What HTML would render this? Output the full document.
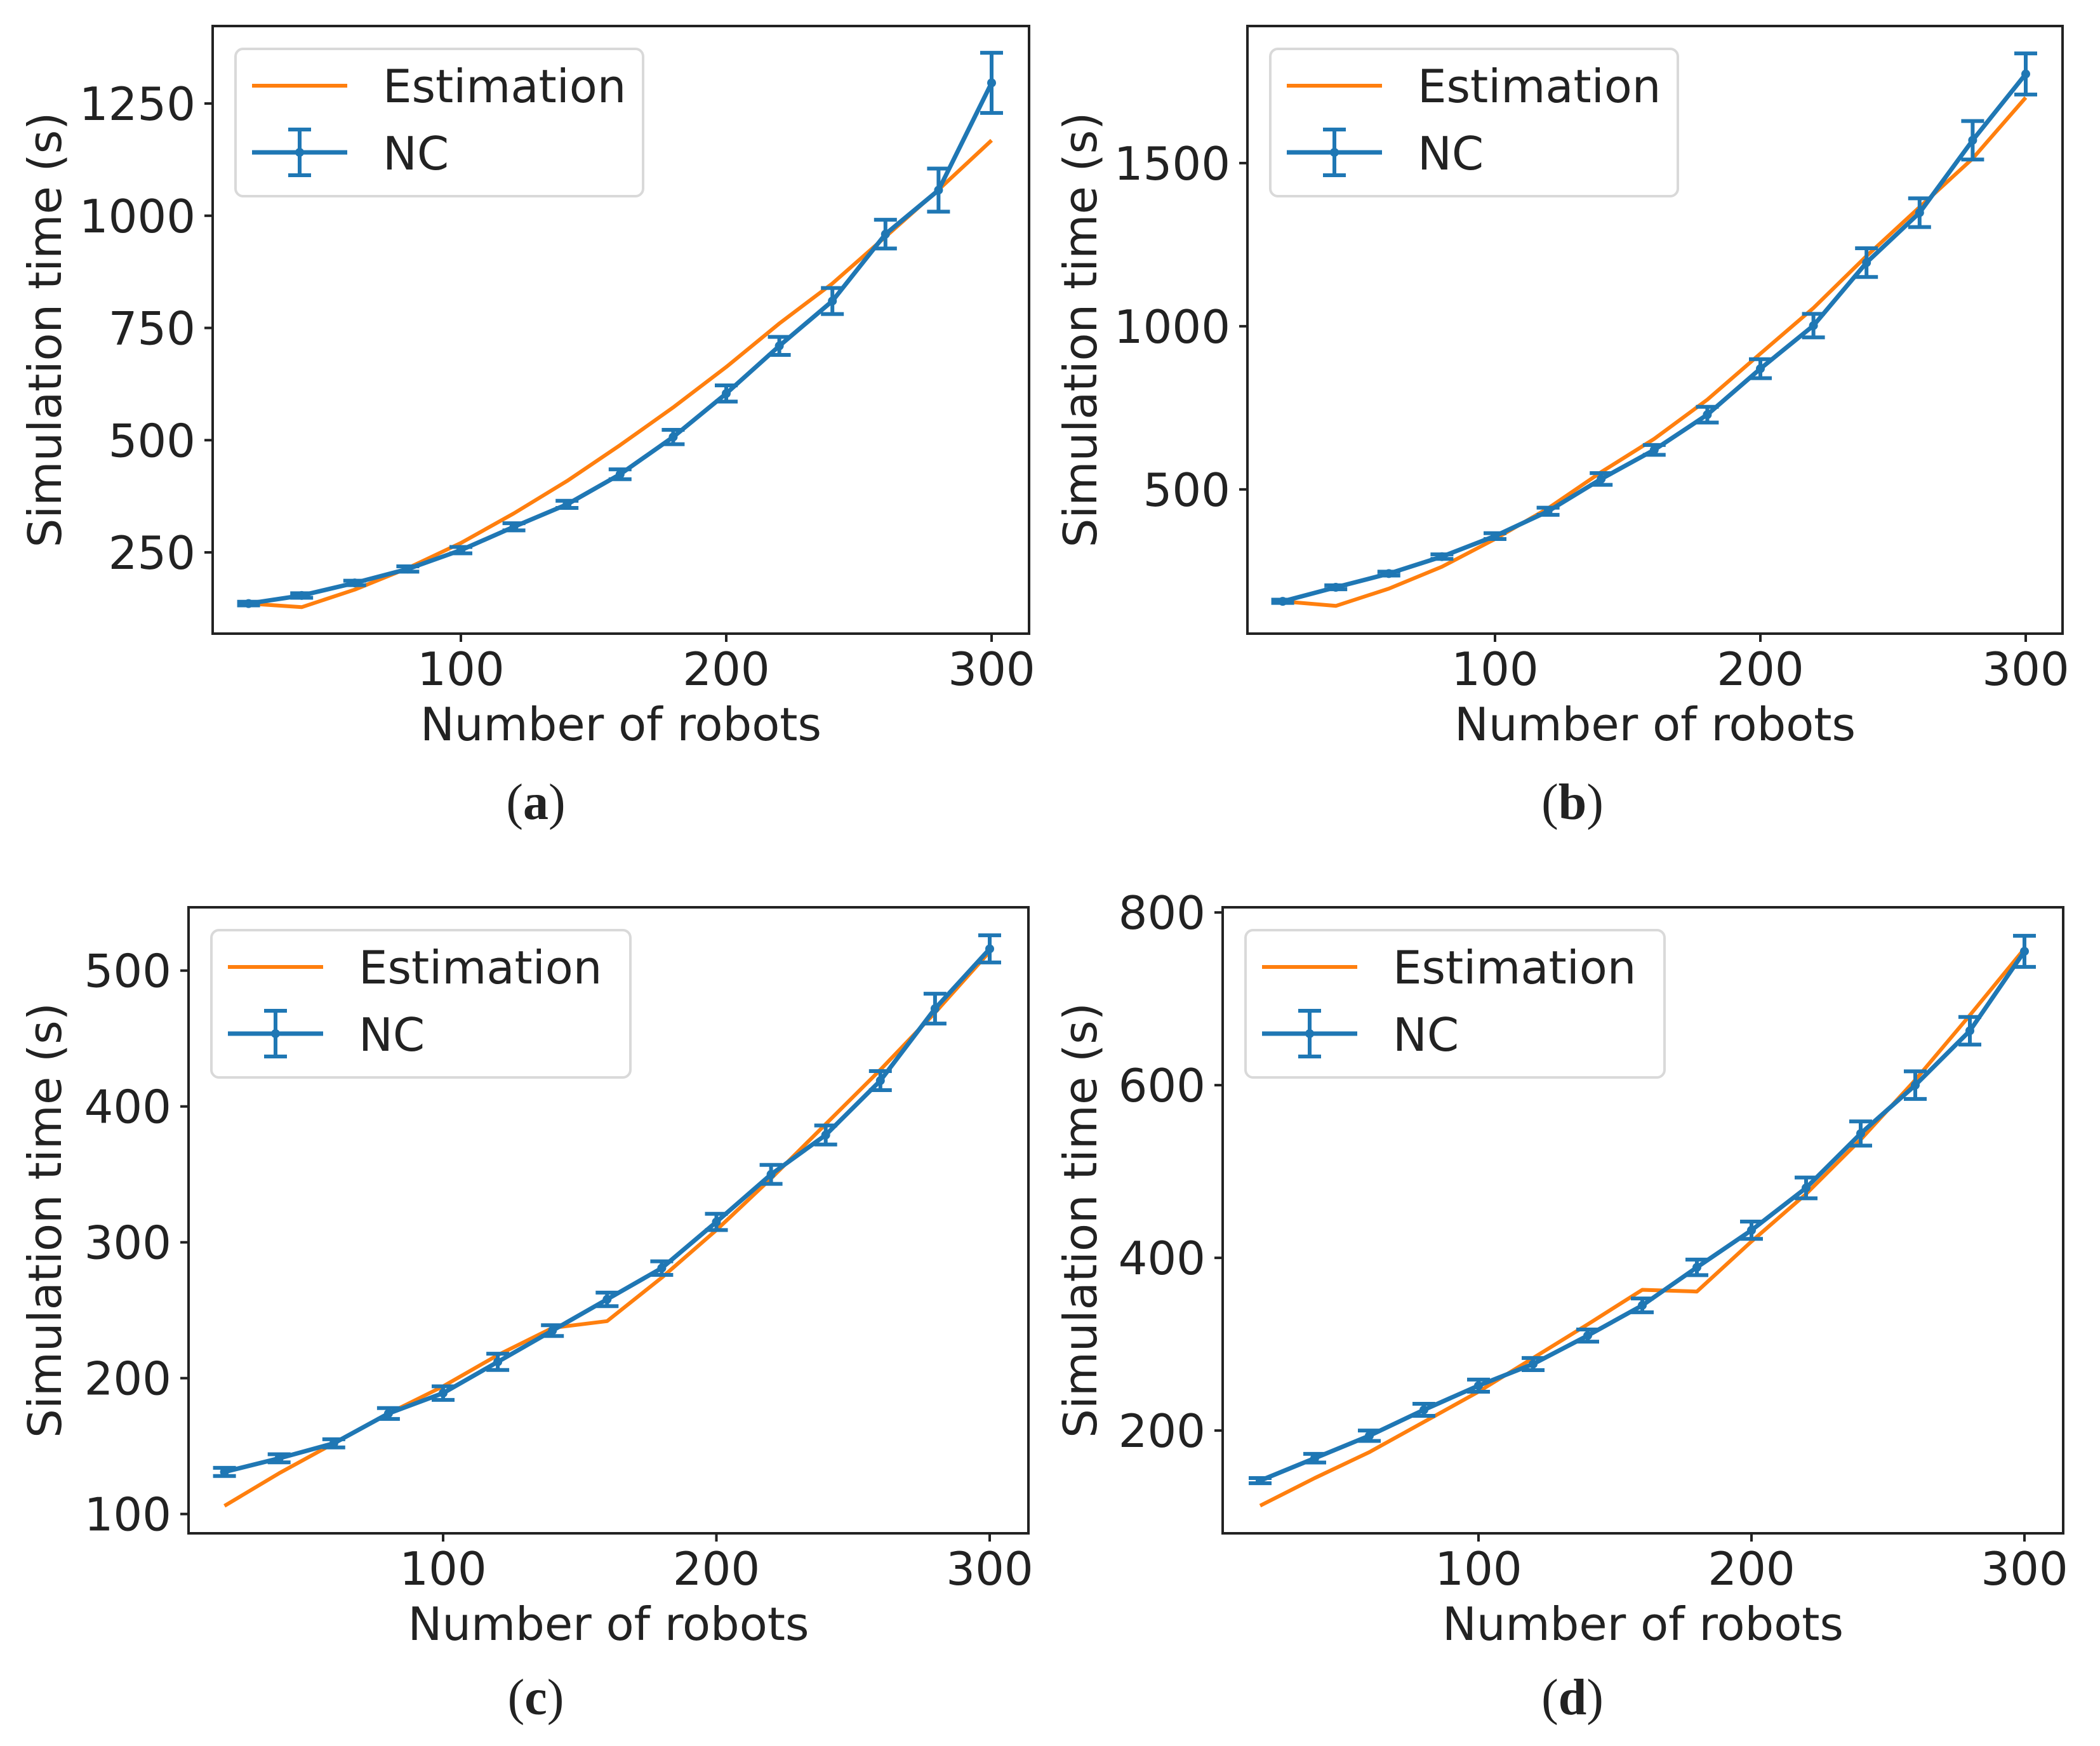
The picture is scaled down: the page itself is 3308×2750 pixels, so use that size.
<!DOCTYPE html>
<html><head><meta charset="utf-8"><style>
html,body{margin:0;padding:0;background:#fff;}
svg{display:block;}
text{font-family:"DejaVu Sans","Liberation Sans",sans-serif;fill:#222;}
.cap{font-family:"Liberation Serif",serif;}
</style></head><body>
<svg id="fig" width="3308" height="2750" viewBox="0 0 3308 2750" xmlns="http://www.w3.org/2000/svg"></svg>
<script>
const robots = [20,40,60,80,100,120,140,160,180,200,220,240,260,280,300];
const xTicks = [100,200,300];

const ncA = [136,154,182,213,255,307,357,424,507,604,710,810,959,1057,1296];
const errA = [4,5,5,6,7,8,8,11,16,18,20,29,32,48,67];
const estA = [136,128,167,215,271,337,409,489,573,663,760,849,953,1058,1168];
const yTicksA = [250,500,750,1000,1250];

const ncB = [157,200,242,294,357,433,532,621,729,870,1002,1195,1348,1570,1773];
const errB = [5,6,6,7,9,11,18,15,24,29,36,44,44,59,63];
const estB = [157,143,196,263,348,442,553,655,775,916,1056,1215,1365,1514,1701];
const yTicksB = [500,1000,1500];

const ncC = [131,141,152,174,189,212,235,258,281,315,350,379,419,472,516];
const errC = [3,3,3,4,5,6,4,5,5,6,7,7,7,11,10];
const estC = [106,130,152,174,194,217,237,242,274,309,347,387,427,469,514];
const yTicksC = [100,200,300,400,500];

const ncD = [142,168,194,224,252,277,310,345,389,432,481,544,600,663,755];
const errD = [3,5,6,7,7,7,7,8,9,10,12,14,16,16,18];
const estD = [113,145,175,210,245,284,323,363,361,419,474,537,606,681,758];
const yTicksD = [200,400,600,800];

const NS = "http://www.w3.org/2000/svg";
const svg = document.getElementById('fig');
const BLUE = "#1f77b4", ORANGE = "#ff7f0e";

function mk(tag, attrs, parent){
  const e = document.createElementNS(NS, tag);
  for (const k in attrs) e.setAttribute(k, attrs[k]);
  (parent||svg).appendChild(e);
  return e;
}

function panel(id, L, R, T, B, xd, yd, nc, err, est, yt, capX, capY, letter, ylx, legW){
  const g = mk('g', {});
  
  
  const sx = v => L + (v - xd[0]) / (xd[1] - xd[0]) * (R - L);
  const sy = v => B - (v - yd[0]) / (yd[1] - yd[0]) * (B - T);

  const pe = robots.map((x,i)=>sx(x).toFixed(1)+','+sy(est[i]).toFixed(1)).join(' ');
  const le = mk('polyline', {points: pe, fill:'none', stroke:ORANGE, 'stroke-width':6, 'stroke-linejoin':'round'}, g);
  
  

  const pn = robots.map((x,i)=>sx(x).toFixed(1)+','+sy(nc[i]).toFixed(1)).join(' ');
  const ln = mk('polyline', {points: pn, fill:'none', stroke:BLUE, 'stroke-width':7, 'stroke-linejoin':'round'}, g);
  
  

  robots.forEach((x,i)=>{
    const cx = sx(x), y1 = sy(nc[i]+err[i]), y2 = sy(nc[i]-err[i]);
    const eb = mk('path', {d:`M${cx},${y1}V${y2}M${cx-18},${y1}H${cx+18}M${cx-18},${y2}H${cx+18}`, stroke:BLUE, 'stroke-width':6, fill:'none'}, g);
    
    
    const pt = mk('circle', {cx:cx, cy:sy(nc[i]), r:7, fill:BLUE}, g);
    
    
  });

  const fr = mk('rect', {x:L, y:T, width:R-L, height:B-T, fill:'none', stroke:'#222', 'stroke-width':4}, g);
  
  

  xTicks.forEach(v=>{
    const x = sx(v);
    mk('line', {x1:x, x2:x, y1:B, y2:B+13, stroke:'#222', 'stroke-width':4}, g);
    const t = mk('text', {x:x, y:B+81, 'font-size':72, 'text-anchor':'middle'}, g);
    t.textContent = v;
    
    
  });
  yt.forEach(v=>{
    const y = sy(v);
    mk('line', {x1:L-13, x2:L, y1:y, y2:y, stroke:'#222', 'stroke-width':4}, g);
    const t = mk('text', {x:L-27, y:y+26, 'font-size':72, 'text-anchor':'end'}, g);
    t.textContent = v;
    
    
  });

  const xl = mk('text', {x:(L+R)/2, y:B+168, 'font-size':72, 'text-anchor':'middle'}, g);
  xl.textContent = 'Number of robots';
  
  

  const yl = mk('text', {x:ylx, y:(T+B)/2, 'font-size':72, 'text-anchor':'middle', transform:`rotate(-90 ${ylx} ${(T+B)/2})`}, g);
  yl.textContent = 'Simulation time (s)';
  
  

  const lx = L+36, ly = T+36;
  const lg = mk('g', {}, g);
  
  
  mk('rect', {x:lx, y:ly, width:legW, height:232, rx:12, fill:'#fff', 'fill-opacity':0.8, stroke:'#d9d9d9', 'stroke-width':4}, lg);
  mk('line', {x1:lx+26, x2:lx+176, y1:ly+58, y2:ly+58, stroke:ORANGE, 'stroke-width':6}, lg);
  const t1 = mk('text', {x:lx+232, y:ly+84, 'font-size':72}, lg);
  t1.textContent = 'Estimation';
  
  
  const cy = ly+163, cx = lx+101;
  mk('line', {x1:lx+26, x2:lx+176, y1:cy, y2:cy, stroke:BLUE, 'stroke-width':7}, lg);
  mk('path', {d:`M${cx},${cy-36}V${cy+36}M${cx-18},${cy-36}H${cx+18}M${cx-18},${cy+36}H${cx+18}`, stroke:BLUE, 'stroke-width':6, fill:'none'}, lg);
  mk('circle', {cx:cx, cy:cy, r:7, fill:BLUE}, lg);
  const t2 = mk('text', {x:lx+232, y:ly+190, 'font-size':72}, lg);
  t2.textContent = 'NC';
  
  

  const cap = mk('text', {x:capX, y:capY, 'font-size':80, 'text-anchor':'middle', class:'cap'}, g);
  cap.innerHTML = '(<tspan font-weight="bold">' + letter + '</tspan>)';
  
  
}

panel('a', 335, 1621, 41, 998, [100 - (726-335)/4.18, 100 + (1621-726)/4.18], [69, 1422.6], ncA, errA, estA, yTicksA, 844, 1290, 'a', 96, 642);
panel('b', 1965, 3249, 41, 998, [100 - (2355-1965)/4.18, 100 + (3249-2355)/4.18], [58, 1920], ncB, errB, estB, yTicksB, 2477, 1290, 'b', 1727, 642);
panel('c', 297, 1620, 1429, 2415, [100 - (698-297)/4.305, 100 + (1620-698)/4.305], [85.8, 546.6], ncC, errC, estC, yTicksC, 844, 2700, 'c', 96, 660);
panel('d', 1926, 3250, 1429, 2415, [100 - (2329-1926)/4.30, 100 + (3250-2329)/4.30], [81, 806], ncD, errD, estD, yTicksD, 2477, 2700, 'd', 1727, 660);
</script>
</body></html>
